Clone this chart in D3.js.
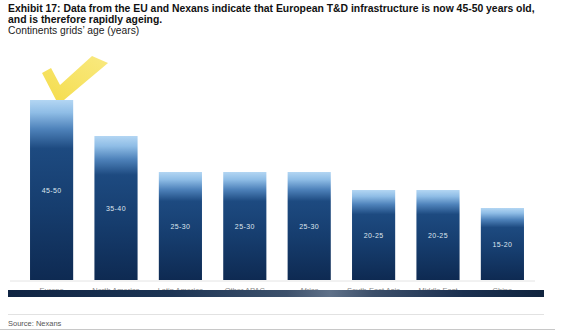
<!DOCTYPE html>
<html><head><meta charset="utf-8">
<script src="https://cdn.jsdelivr.net/npm/d3@7"></script>
<style>
html,body{margin:0;padding:0;background:#fff;}
svg{display:block;font-family:"Liberation Sans",Arial,Helvetica,sans-serif;}
</style></head>
<body>
<svg id="chart" width="561" height="331"></svg>
<script>
const categories = ["Europe","North America","Latin America","Other APAC","Africa","South-East Asia","Middle East","China"];
const gridAge = [50, 40, 30, 30, 30, 25, 25, 20];
const ageLabels = ["45-50","35-40","25-30","25-30","25-30","20-25","20-25","15-20"];
const titleLines = ["Exhibit 17: Data from the EU and Nexans indicate that European T&D infrastructure is now 45-50 years old,","and is therefore rapidly ageing."];
const subtitle = "Continents grids\u2019 age (years)";
const source = "Source: Nexans";

const svg = d3.select("#chart");
const defs = svg.append("defs");

const bg = defs.append("linearGradient").attr("id","barGrad").attr("x1",0).attr("y1",0).attr("x2",0).attr("y2",1);
[[0,"#b3d6f3"],[0.07,"#8fbde6"],[0.16,"#4f83bb"],[0.27,"#1d4a80"],[0.6,"#163d6e"],[1,"#0e2a52"]]
  .forEach(([o,c])=>bg.append("stop").attr("offset",o).attr("stop-color",c));

const band = defs.append("linearGradient").attr("id","bandGrad").attr("x1",0).attr("y1",0).attr("x2",1).attr("y2",0);
[[0,"#0f2443"],[0.3,"#1c3454"],[0.52,"#3d516c"],[0.6,"#5f7189"],[0.68,"#3c4f6a"],[0.85,"#1b3050"],[1,"#10243f"]]
  .forEach(([o,c])=>band.append("stop").attr("offset",o).attr("stop-color",c));

const chk = defs.append("linearGradient").attr("id","chkGrad").attr("x1",0).attr("y1",1).attr("x2",1).attr("y2",0);
[[0,"#f3d93c"],[0.5,"#f6e15a"],[1,"#f8e775"]]
  .forEach(([o,c])=>chk.append("stop").attr("offset",o).attr("stop-color",c));

const x = d3.scaleBand().domain(categories).range([8,546]).paddingInner(0.33).paddingOuter(0.342);
const y = d3.scaleLinear().domain([0,50]).range([280,100]);

// titles
const t = svg.append("g").attr("fill","#111").attr("font-weight","bold").attr("font-size","10.4px");
titleLines.forEach((l,i)=>t.append("text").attr("x",8).attr("y",12+i*11).text(l));
svg.append("text").attr("x",8).attr("y",34).attr("font-size","10.3px").attr("fill","#222").text(subtitle);

// baseline
svg.append("line").attr("x1",10).attr("x2",535).attr("y1",281).attr("y2",281).attr("stroke","#e4e4e4").attr("stroke-width",1);

// bars
const data = categories.map((c,i)=>({c, v:gridAge[i], l:ageLabels[i]}));
svg.append("g").selectAll("rect").data(data).join("rect")
  .attr("x",d=>x(d.c)).attr("width",x.bandwidth())
  .attr("y",d=>y(d.v)).attr("height",d=>y(0)-y(d.v))
  .attr("fill","url(#barGrad)");

svg.append("g").selectAll("text").data(data).join("text")
  .attr("x",d=>x(d.c)+x.bandwidth()/2)
  .attr("y",d=>(y(d.v)+y(0))/2+2.5)
  .attr("text-anchor","middle").attr("font-size","7px").attr("letter-spacing","0.4px")
  .attr("fill","#dfe6ef").text(d=>d.l);

// category labels (partly hidden by band)
svg.append("g").selectAll("text").data(categories).join("text")
  .attr("x",d=>x(d)+x.bandwidth()/2).attr("y",293)
  .attr("text-anchor","middle").attr("font-size","7.5px").attr("fill","#8a8a8a").text(d=>d);

// dark band
svg.append("rect").attr("x",8).attr("y",290).attr("width",536).attr("height",7).attr("fill","url(#bandGrad)");

// checkmark anchored to the Europe bar top
const bx = x(categories[0]), by = y(gridAge[0]);
const pts = [[12,-27],[21,-32],[30,-15],[62,-44],[78,-37],[34,0],[26,0]].map(([dx,dy])=>[bx+dx,by+dy]);
svg.append("path").attr("d",d3.line()(pts)+"Z").attr("fill","url(#chkGrad)").attr("opacity",0.92);

// footer
svg.append("line").attr("x1",8).attr("x2",544).attr("y1",314.5).attr("y2",314.5).attr("stroke","#e2e2e2");
svg.append("text").attr("x",8).attr("y",326).attr("font-size","7.5px").attr("fill","#555").text(source);
svg.append("line").attr("x1",0).attr("x2",555).attr("y1",329.5).attr("y2",329.5).attr("stroke","#c8c8c8").attr("stroke-width",1.2);
</script>
</body></html>
